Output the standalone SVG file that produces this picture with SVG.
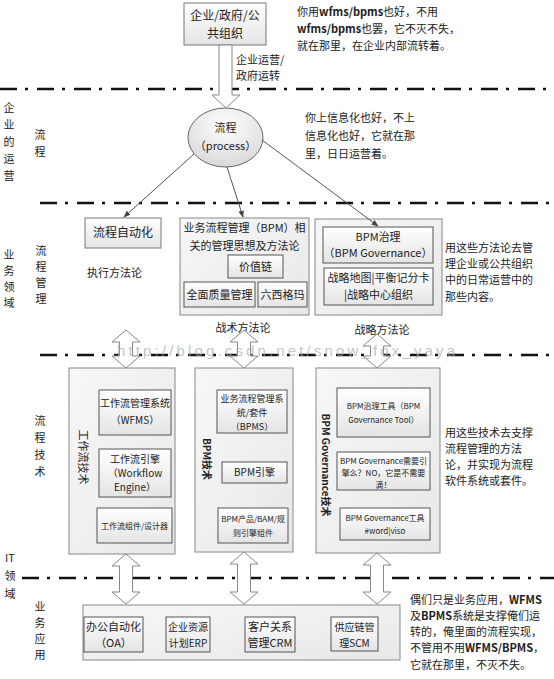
<svg xmlns="http://www.w3.org/2000/svg" width="554" height="679" viewBox="0 0 554 679">
<defs>
<linearGradient id="gBox" x1="0" y1="0" x2="0" y2="1"><stop offset="0" stop-color="#ffffff"/><stop offset="1" stop-color="#e4e4e4"/></linearGradient>
<linearGradient id="gOuter" x1="0" y1="0" x2="1" y2="1"><stop offset="0" stop-color="#f7f7f7"/><stop offset="1" stop-color="#e8e8e8"/></linearGradient>
<radialGradient id="gEll" cx="0.5" cy="0.3" r="0.7"><stop offset="0" stop-color="#ffffff"/><stop offset="1" stop-color="#d9d9d9"/></radialGradient>
<marker id="arr" viewBox="0 0 10 10" refX="9" refY="5" markerWidth="7" markerHeight="7" orient="auto"><path d="M0,1 L10,5 L0,9 Z" fill="#444"/></marker>
</defs>
<style>
text{font-family:"Noto Sans CJK SC","Liberation Sans",sans-serif;fill:#222}
.sep{stroke:#111;stroke-width:2.5;stroke-dasharray:17 8 3 9;fill:none}
.box{fill:url(#gBox);stroke:#777;stroke-width:1}
.outer{fill:url(#gOuter);stroke:#888;stroke-width:1}
.inner{fill:url(#gBox);stroke:#555;stroke-width:1}
.blk{fill:#fff;stroke:#888;stroke-width:1}
.conn{stroke:#555;stroke-width:1;fill:none;marker-end:url(#arr)}
.t11{font-size:11px}
.t12{font-size:12px}
.t10{font-size:10px}
.t9{font-size:9px}
.t8{font-size:8px}
.c{text-anchor:middle}
.lab{font-size:11px;text-anchor:middle}
.wm{font-family:"Liberation Sans",sans-serif;font-size:15px;fill:#aaaaaa;fill-opacity:0.7}
</style>

<g id="separators">
<line class="sep" x1="0" y1="89" x2="554" y2="89"/>
<line class="sep" x1="40" y1="203" x2="554" y2="203"/>
<line class="sep" x1="40" y1="355" x2="554" y2="355"/>
<line class="sep" x1="22" y1="578" x2="554" y2="578"/>
</g>

<g id="left-labels">
<text class="lab"><tspan x="9" y="112">企</tspan><tspan x="9" y="129">业</tspan><tspan x="9" y="146">的</tspan><tspan x="9" y="163">运</tspan><tspan x="9" y="180">营</tspan></text>
<text class="lab"><tspan x="40" y="139">流</tspan><tspan x="40" y="156">程</tspan></text>
<text class="lab"><tspan x="9" y="259">业</tspan><tspan x="9" y="275">务</tspan><tspan x="9" y="291">领</tspan><tspan x="9" y="307">域</tspan></text>
<text class="lab"><tspan x="41" y="255">流</tspan><tspan x="41" y="271">程</tspan><tspan x="41" y="287">管</tspan><tspan x="41" y="303">理</tspan></text>
<text class="lab"><tspan x="40" y="425">流</tspan><tspan x="40" y="442">程</tspan><tspan x="40" y="459">技</tspan><tspan x="40" y="476">术</tspan></text>
<text class="lab"><tspan x="10" y="562">IT</tspan><tspan x="10" y="580">领</tspan><tspan x="10" y="598">域</tspan></text>
<text class="lab"><tspan x="40" y="611">业</tspan><tspan x="40" y="627">务</tspan><tspan x="40" y="643">应</tspan><tspan x="40" y="659">用</tspan></text>
</g>

<g id="node-org">
<rect class="box" x="184" y="3" width="82" height="42"/>
<text class="t12 c" x="225" y="20">企业/政府/公</text>
<text class="t12 c" x="225" y="38">共组织</text>
</g>

<g id="note-top">
<text class="t11" x="297" y="16">你用<tspan font-weight="bold">wfms/bpms</tspan>也好，不用</text>
<text class="t11" x="297" y="33"><tspan font-weight="bold">wfms/bpms</tspan>也罢，它不灭不失，</text>
<text class="t11" x="297" y="50">就在那里，在企业内部流转着。</text>
</g>

<g id="node-process">
<ellipse cx="225.5" cy="137.5" rx="37.5" ry="29.5" fill="url(#gEll)" stroke="#666" stroke-width="1"/>
<text class="t11 c" x="225.5" y="132">流程</text>
<text class="t11 c" x="225.5" y="150">（process）</text>
</g>

<g id="note-process">
<text class="t11" x="305" y="122">你上信息化也好，不上</text>
<text class="t11" x="305" y="140">信息化也好，它就在那</text>
<text class="t11" x="305" y="158">里，日日运营着。</text>
</g>

<g id="node-automation">
<rect class="box" x="85" y="218" width="76" height="30"/>
<text class="t12 c" x="123" y="237">流程自动化</text>
<text class="t11" x="87" y="277">执行方法论</text>
</g>

<g id="node-bpm-method">
<rect class="outer" x="180" y="218" width="129" height="97"/>
<text class="t11 c" x="244.5" y="232">业务流程管理（BPM）相</text>
<text class="t11 c" x="244.5" y="250">关的管理思想及方法论</text>
<rect class="inner" x="228" y="255" width="55" height="23"/>
<text class="t11 c" x="255.5" y="271">价值链</text>
<rect class="inner" x="184" y="282" width="71" height="25"/>
<text class="t11 c" x="219.5" y="299">全面质量管理</text>
<rect class="inner" x="258" y="282" width="49" height="25"/>
<text class="t11 c" x="282.5" y="299">六西格玛</text>
<text class="t11 c" x="243" y="332">战术方法论</text>
</g>

<g id="node-governance">
<rect class="outer" x="315" y="219" width="127" height="96"/>
<rect class="inner" x="323" y="227" width="110" height="36"/>
<text class="t11 c" x="378" y="241">BPM治理</text>
<text class="t11 c" x="378" y="257">（BPM Governance）</text>
<rect class="inner" x="324" y="268" width="109" height="37"/>
<text class="t11 c" x="378.5" y="282">战略地图|平衡记分卡</text>
<text class="t11 c" x="378.5" y="299">|战略中心组织</text>
<text class="t11 c" x="382" y="334">战略方法论</text>
</g>

<g id="note-method">
<text class="t11" x="445" y="252">用这些方法论去管</text>
<text class="t11" x="445" y="268">理企业或公共组织</text>
<text class="t11" x="445" y="284">中的日常运营中的</text>
<text class="t11" x="445" y="301">那些内容。</text>
</g>

<g id="node-workflow-tech">
<rect class="outer" x="69" y="368" width="106" height="186"/>
<text class="t11 c" transform="translate(84,457) rotate(90)" dominant-baseline="central">工作流技术</text>
<rect class="inner" x="99" y="390" width="72" height="45"/>
<text class="t10 c" x="135" y="407">工作流管理系统</text>
<text class="t10 c" x="135" y="424">（WFMS）</text>
<rect class="inner" x="99" y="449" width="72" height="48"/>
<text class="t10 c" x="135" y="463">工作流引擎</text>
<text class="t10 c" x="135" y="477">（Workflow</text>
<text class="t10 c" x="135" y="491">Engine）</text>
<rect class="inner" x="97" y="508" width="75" height="35"/>
<text class="t8 c" x="134.5" y="529">工作流组件/设计器</text>
</g>

<g id="node-bpm-tech">
<rect class="outer" x="195" y="368" width="98" height="184"/>
<text class="t10 c" font-weight="bold" transform="translate(207,459) rotate(90)" dominant-baseline="central">BPM技术</text>
<rect class="inner" x="217" y="390" width="70" height="43"/>
<text class="t9 c" x="252" y="402">业务流程管理系</text>
<text class="t9 c" x="252" y="416">统/套件</text>
<text class="t9 c" x="252" y="430">（BPMS）</text>
<rect class="inner" x="222" y="462" width="65" height="21"/>
<text class="t10 c" x="254.5" y="476">BPM引擎</text>
<rect class="inner" x="218" y="508" width="70" height="35"/>
<text class="t8 c" x="253" y="522">BPM产品/BAM/规</text>
<text class="t8 c" x="253" y="536">则引擎组件</text>
</g>

<g id="node-governance-tech">
<rect class="outer" x="316" y="368" width="124" height="185"/>
<text class="t10 c" font-weight="bold" transform="translate(326,465) rotate(90)" dominant-baseline="central">BPM Governance技术</text>
<rect class="inner" x="337" y="388" width="93" height="49"/>
<text class="t8 c" x="383.5" y="409">BPM治理工具（BPM</text>
<text class="t8 c" x="383.5" y="423">Governance Tool）</text>
<rect class="inner" x="337" y="452" width="93" height="38"/>
<text class="t8 c" x="383.5" y="464">BPM Governance需要引</text>
<text class="t8 c" x="383.5" y="476">擎么？NO，它是不需要</text>
<text class="t8 c" x="383.5" y="488">滴！</text>
<rect class="inner" x="340" y="508" width="90" height="32"/>
<text class="t8 c" x="385" y="521">BPM Governance工具</text>
<text class="t8 c" x="385" y="534">#word|viso</text>
</g>

<g id="note-tech">
<text class="t11" x="445" y="437">用这些技术去支撑</text>
<text class="t11" x="445" y="453">流程管理的方法</text>
<text class="t11" x="445" y="469">论，并实现为流程</text>
<text class="t11" x="445" y="485">软件系统或套件。</text>
</g>

<g id="node-apps">
<rect class="outer" x="83" y="605" width="317" height="55"/>
<rect class="inner" x="84" y="617" width="59" height="35"/>
<text class="t11 c" x="113.5" y="631">办公自动化</text>
<text class="t11 c" x="113.5" y="647">（OA）</text>
<rect class="inner" x="166" y="617" width="44" height="35"/>
<text class="t10 c" x="188" y="631">企业资源</text>
<text class="t10 c" x="188" y="647">计划ERP</text>
<rect class="inner" x="245" y="617" width="50" height="35"/>
<text class="t11 c" x="270" y="631">客户关系</text>
<text class="t11 c" x="270" y="647">管理CRM</text>
<rect class="inner" x="331" y="617" width="47" height="34"/>
<text class="t10 c" x="354.5" y="631">供应链管</text>
<text class="t10 c" x="354.5" y="647">理SCM</text>
</g>

<g id="note-apps">
<text class="t11" x="410" y="604">偶们只是业务应用，<tspan font-weight="bold">WFMS</tspan></text>
<text class="t11" x="410" y="620">及<tspan font-weight="bold">BPMS</tspan>系统是支撑俺们运</text>
<text class="t11" x="410" y="636">转的，俺里面的流程实现，</text>
<text class="t11" x="410" y="652">不管用不用<tspan font-weight="bold">WFMS/BPMS</tspan>，</text>
<text class="t11" x="410" y="669">它就在那里，不灭不失。</text>
</g>

<g id="connectors">
<path class="blk" d="M219,45 L232,45 L232,95 L240,95 L226,108 L212,95 L219,95 Z"/>
<text class="t11" x="236" y="64">企业运营/</text>
<text class="t11" x="236" y="80">政府运转</text>
<line class="conn" x1="194" y1="154" x2="124" y2="217"/>
<line class="conn" x1="227" y1="167" x2="243" y2="217"/>
<line class="conn" x1="262" y1="140" x2="378" y2="226"/>
<path class="blk" d="M126,330 L140,342 L132.5,342 L132.5,356 L140,356 L126,368 L112,356 L119.5,356 L119.5,342 L112,342 Z"/>
<path class="blk" d="M244,330 L258,342 L250.5,342 L250.5,356 L258,356 L244,368 L230,356 L237.5,356 L237.5,342 L230,342 Z"/>
<path class="blk" d="M377,334 L391,346 L383.5,346 L383.5,356 L391,356 L377,368 L363,356 L370.5,356 L370.5,346 L363,346 Z"/>
<path class="blk" d="M126,554 L140,566 L132.5,566 L132.5,592 L140,592 L126,604 L112,592 L119.5,592 L119.5,566 L112,566 Z"/>
<path class="blk" d="M244,552 L258,564 L250.5,564 L250.5,592 L258,592 L244,604 L230,592 L237.5,592 L237.5,564 L230,564 Z"/>
<path class="blk" d="M377,553 L391,565 L383.5,565 L383.5,592 L391,592 L377,604 L363,592 L370.5,592 L370.5,565 L363,565 Z"/>
</g>

<g id="watermark">
<text class="wm" x="117" y="356" textLength="338">http://blog.csdn.net/snow_fox_yaya</text>
</g>
</svg>
